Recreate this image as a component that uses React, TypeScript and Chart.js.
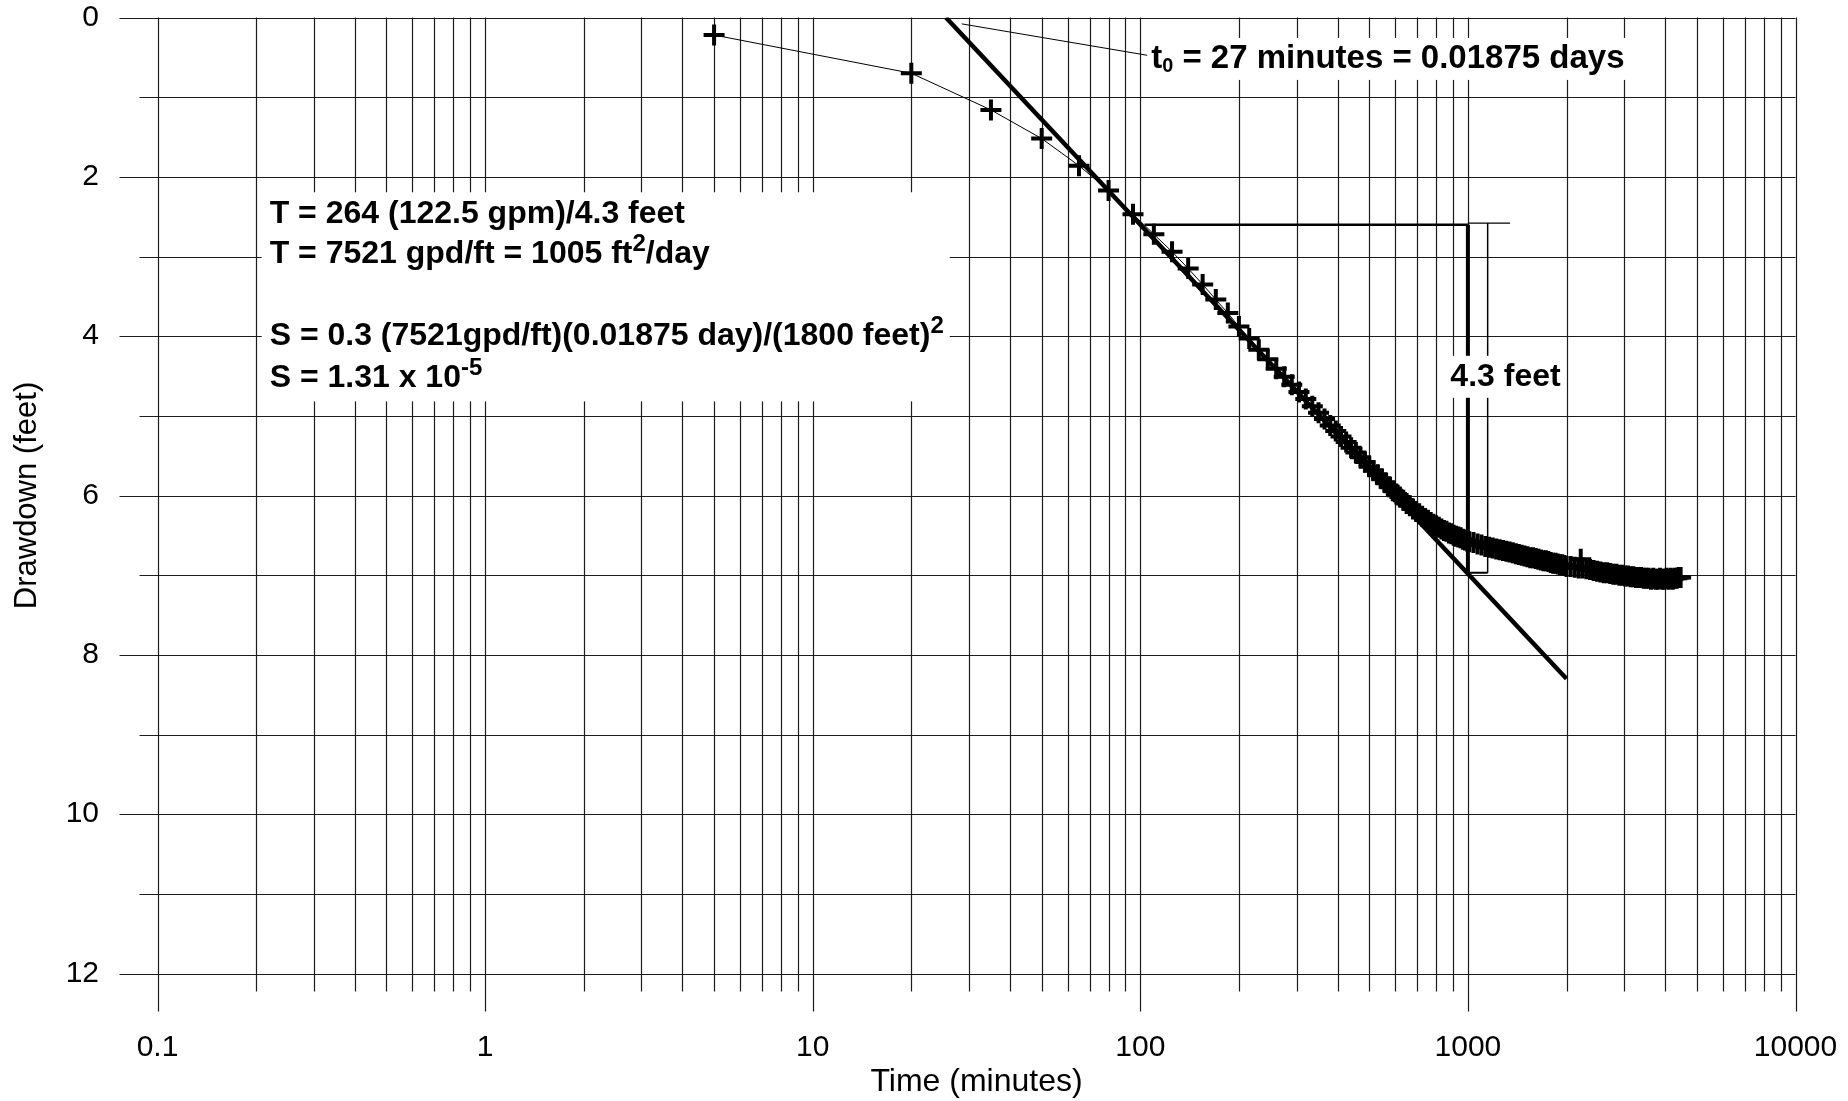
import React, { useEffect, useRef } from "react";
import { Chart, registerables } from "chart.js";

Chart.register(...registerables);

const FONT = "'Liberation Sans', Arial, Helvetica, sans-serif";

// ---- axes ----
const xTickValues = [0.1, 1, 10, 100, 1000, 10000];
const xTickLabels = ["0.1", "1", "10", "100", "1000", "10000"];
const xGridDecades = [0.1, 1, 10, 100, 1000];
const xGridMultipliers = [1, 2, 3, 4, 5, 6, 7, 8, 9];
const yTickValues = [0, 2, 4, 6, 8, 10, 12];
const yTickLabels = ["0", "2", "4", "6", "8", "10", "12"];
const yGridValues = [0, 1, 2, 3, 4, 5, 6, 7, 8, 9, 10, 11, 12];

// ---- observed drawdown (time in minutes, drawdown in feet) ----
const obsTimeMin = [
  5, 20, 35, 50, 65, 80, 95, 110, 125, 140, 155, 170, 185, 200, 215, 230, 245, 260, 275, 290,
  305, 320, 335, 350, 365, 380, 395, 410, 425, 440, 455, 470, 485, 500, 515, 530, 545, 560, 575, 590,
  605, 620, 635, 650, 665, 680, 695, 710, 725, 740, 755, 770, 785, 800, 815, 830, 845, 860, 875, 890,
  905, 920, 935, 950, 965, 980, 995, 1010,
  1040, 1070, 1100, 1130, 1160, 1190, 1220, 1250, 1280, 1310, 1340, 1370, 1400, 1430, 1460, 1490,
  1520, 1550, 1580, 1610, 1640, 1670, 1700, 1730, 1760, 1790, 1820, 1850, 1880, 1910, 1940, 1970, 2000,
  2060, 2120, 2180, 2210, 2240, 2300, 2360, 2420, 2480, 2540, 2600, 2660, 2720, 2780, 2840, 2900,
  2960, 3020, 3080, 3140, 3200, 3260, 3320, 3380, 3440, 3500, 3560, 3620, 3680, 3740, 3800, 3860,
  3920, 3980, 4040, 4100, 4160, 4220, 4280, 4340, 4400, 4460,
];
const obsDrawdownFt = [
  0.22, 0.7, 1.16, 1.52, 1.86, 2.17, 2.47, 2.72, 2.94, 3.15, 3.35, 3.54, 3.71, 3.88, 4.03, 4.17, 4.29, 4.41, 4.51, 4.61,
  4.7, 4.79, 4.88, 4.96, 5.04, 5.12, 5.19, 5.26, 5.33, 5.4, 5.46, 5.52, 5.58, 5.64, 5.69, 5.74, 5.79, 5.84, 5.89, 5.94,
  5.98, 6.02, 6.06, 6.1, 6.13, 6.17, 6.2, 6.23, 6.26, 6.29, 6.31, 6.34, 6.36, 6.38, 6.4, 6.42, 6.44, 6.45, 6.47, 6.48,
  6.5, 6.51, 6.52, 6.53, 6.55, 6.56, 6.57, 6.58,
  6.59, 6.61, 6.62, 6.64, 6.65, 6.66, 6.67, 6.68, 6.69, 6.7, 6.71, 6.72, 6.73, 6.74, 6.75, 6.76,
  6.77, 6.78, 6.78, 6.79, 6.8, 6.81, 6.82, 6.82, 6.83, 6.84, 6.85, 6.85, 6.86, 6.87, 6.87, 6.88, 6.89,
  6.89, 6.9, 6.91, 6.8, 6.91, 6.92, 6.93, 6.94, 6.95, 6.96, 6.97, 6.97, 6.98, 6.99, 6.99, 7.0,
  7.0, 7.01, 7.01, 7.02, 7.02, 7.03, 7.03, 7.03, 7.04, 7.04, 7.04, 7.05, 7.04, 7.05, 7.05, 7.04,
  7.05, 7.05, 7.04, 7.05, 7.04, 7.05, 7.04, 7.04, 7.03, 7.03,
];

// ---- Cooper-Jacob straight line fit ----
const fitTimeMin = [25.5, 2000];
const fitDrawdownFt = [0, 8.3];

// ---- leader line to t0 label ----
const leaderTimeMin = [28.5, 107];
const leaderDrawdownFt = [0.08, 0.48];

// ---- 4.3 feet per log cycle bracket ----
const bracketTopTime = [103, 1000];
const bracketTopDd = [2.6, 2.6];
const bracketTopThinTime = [1000, 1345];
const bracketTopThinDd = [2.58, 2.58];
const bracketLeftTime = [1000, 1000];
const bracketLeftDd = [2.6, 6.97];
const bracketRightTime = [1149, 1149];
const bracketRightDd = [2.58, 6.97];
const bracketBottomTime = [1000, 1149];
const bracketBottomDd = [6.97, 6.97];

// ---- annotation texts ----
type Part = { t: string; sup?: boolean; sub?: boolean };
const blockLines: Part[][] = [
  [{ t: "T = 264 (122.5 gpm)/4.3 feet" }],
  [{ t: "T = 7521 gpd/ft = 1005 ft" }, { t: "2", sup: true }, { t: "/day" }],
  [{ t: "S = 0.3 (7521gpd/ft)(0.01875 day)/(1800 feet)" }, { t: "2", sup: true }],
  [{ t: "S = 1.31 x 10" }, { t: "-5", sup: true }],
];
const blockLineDd = [2.47, 2.97, 4.0, 4.53];
const blockTime = 0.22;
const t0Label: Part[] = [{ t: "t" }, { t: "0", sub: true }, { t: " = 27 minutes = 0.01875 days" }];
const t0Anchor = { time: 108, dd: 0.52 };
const cycleLabel: Part[] = [{ t: "4.3 feet" }];
const cycleAnchor = { time: 884, dd: 4.51 };

const ANN = 32;
const ANN_T0 = 33;

function partFont(p: Part, size: number) {
  const sz = p.sup ? size * 0.75 : p.sub ? size * 0.6 : size;
  return `bold ${sz}px ${FONT}`;
}
function measureParts(ctx: CanvasRenderingContext2D, parts: Part[], size: number) {
  let w = 0;
  for (const p of parts) {
    ctx.font = partFont(p, size);
    w += ctx.measureText(p.t).width;
  }
  return w;
}
function drawParts(ctx: CanvasRenderingContext2D, x: number, y: number, parts: Part[], size: number) {
  let cx = x;
  ctx.textAlign = "left";
  ctx.textBaseline = "middle";
  ctx.fillStyle = "#000";
  for (const p of parts) {
    ctx.font = partFont(p, size);
    const dy = p.sup ? -size * 0.3 : p.sub ? size * 0.22 : 0;
    ctx.fillText(p.t, cx, y + dy);
    cx += ctx.measureText(p.t).width;
  }
}

const paperPlugin = {
  id: "paper",
  beforeDraw(chart: any) {
    const { ctx, width, height } = chart;
    ctx.save();
    ctx.fillStyle = "#fff";
    ctx.fillRect(0, 0, width, height);
    ctx.restore();
  },
  beforeDatasetsDraw(chart: any) {
    const { ctx, chartArea: a, scales } = chart;
    const xs = scales.x;
    const ys = scales.y;
    ctx.save();
    ctx.strokeStyle = "#1c1c1c";
    ctx.lineWidth = 1.2;
    ctx.beginPath();
    const vlines: [number, boolean][] = [];
    xGridDecades.forEach((d) => xGridMultipliers.forEach((m) => vlines.push([m * d, m === 1])));
    vlines.push([10000, true]);
    for (const [v, major] of vlines) {
      const x = Math.round(xs.getPixelForValue(v)) + 0.5;
      ctx.moveTo(x, a.top);
      ctx.lineTo(x, a.bottom + (major ? 38 : 18));
    }
    for (const v of yGridValues) {
      const y = Math.round(ys.getPixelForValue(v)) + 0.5;
      ctx.moveTo(a.left - (v % 2 === 0 ? 38 : 18), y);
      ctx.lineTo(a.right, y);
    }
    ctx.stroke();

    // white text box
    const x0 = xs.getPixelForValue(blockTime);
    let maxW = 0;
    blockLines.forEach((l) => (maxW = Math.max(maxW, measureParts(ctx, l, ANN))));
    const yTop = ys.getPixelForValue(blockLineDd[0]) - 22;
    const yBot = ys.getPixelForValue(blockLineDd[blockLineDd.length - 1]) + 23;
    ctx.fillStyle = "#fff";
    ctx.fillRect(x0 - 8, yTop, maxW + 14, yBot - yTop);
    ctx.restore();
  },
  afterDatasetsDraw(chart: any) {
    const { ctx, scales } = chart;
    const xs = scales.x;
    const ys = scales.y;
    ctx.save();
    const x0 = xs.getPixelForValue(blockTime);
    blockLines.forEach((l, i) => drawParts(ctx, x0, ys.getPixelForValue(blockLineDd[i]), l, ANN));

    const labels: [Part[], { time: number; dd: number }, number][] = [
      [t0Label, t0Anchor, ANN_T0],
      [cycleLabel, cycleAnchor, ANN],
    ];
    for (const [parts, anc, size] of labels) {
      const lx = xs.getPixelForValue(anc.time);
      const ly = ys.getPixelForValue(anc.dd);
      const w = measureParts(ctx, parts, size);
      ctx.fillStyle = "#fff";
      ctx.fillRect(lx - 4, ly - 21, w + 8, 42);
      drawParts(ctx, lx, ly, parts, size);
    }
    ctx.restore();
  },
};

function series(ts: number[], ds: number[]) {
  const n = Math.min(ts.length, ds.length);
  const out: { x: number; y: number }[] = [];
  for (let i = 0; i < n; i++) out.push({ x: ts[i], y: ds[i] });
  return out;
}

function lineDs(ts: number[], ds: number[], width: number) {
  return {
    data: series(ts, ds),
    showLine: true,
    borderColor: "#000",
    borderWidth: width,
    pointRadius: 0,
    pointHoverRadius: 0,
    fill: false,
  };
}

export default function App() {
  const ref = useRef<HTMLCanvasElement | null>(null);
  useEffect(() => {
    const canvas = ref.current;
    if (!canvas) return;
    const chart = new Chart(canvas, {
      type: "scatter",
      data: {
        datasets: [
          {
            data: series(obsTimeMin, obsDrawdownFt),
            showLine: true,
            borderColor: "#000",
            borderWidth: 1,
            pointStyle: "cross",
            pointRadius: 10.5,
            pointHoverRadius: 10.5,
            pointBorderWidth: 4,
            pointBorderColor: "#000",
            pointBackgroundColor: "#000",
          } as any,
          lineDs(fitTimeMin, fitDrawdownFt, 4.5),
          lineDs(leaderTimeMin, leaderDrawdownFt, 1),
          lineDs(bracketTopTime, bracketTopDd, 2.5),
          lineDs(bracketTopThinTime, bracketTopThinDd, 1.3),
          lineDs(bracketLeftTime, bracketLeftDd, 4),
          lineDs(bracketRightTime, bracketRightDd, 1.5),
          lineDs(bracketBottomTime, bracketBottomDd, 2),
        ],
      },
      options: {
        responsive: false,
        animation: false,
        devicePixelRatio: 1,
        events: [],
        layout: { padding: { left: 0, right: 52.5, top: 17.5, bottom: 0 }, autoPadding: false } as any,
        plugins: { legend: { display: false }, tooltip: { enabled: false } },
        scales: {
          x: {
            type: "logarithmic",
            position: "bottom",
            min: 0.1,
            max: 10000,
            grid: { display: false, drawTicks: true, tickLength: 56 },
            border: { display: false },
            ticks: {
              autoSkip: false,
              maxRotation: 0,
              minRotation: 0,
              padding: 0,
              color: "#000",
              font: { family: FONT, size: 30 },
              callback: (_v: any, i: number) => xTickLabels[i],
            },
            afterBuildTicks: (scale: any) => {
              scale.ticks = xTickValues.map((v) => ({ value: v }));
            },
            afterFit: (scale: any) => {
              scale.height = 127.5;
              scale.paddingLeft = 0;
              scale.paddingRight = 0;
              scale.paddingTop = 0;
              scale.paddingBottom = 0;
            },
            title: {
              display: true,
              text: "Time (minutes)",
              color: "#000",
              font: { family: FONT, size: 32 },
              padding: { top: 0, bottom: 0 },
            },
          } as any,
          y: {
            type: "linear",
            position: "left",
            min: 0,
            max: 12,
            reverse: true,
            grid: { display: false, drawTicks: true, tickLength: 58.5 },
            border: { display: false },
            ticks: {
              autoSkip: false,
              padding: 0,
              color: "#000",
              font: { family: FONT, size: 30 },
              callback: (_v: any, i: number) => yTickLabels[i],
            },
            afterBuildTicks: (scale: any) => {
              scale.ticks = yTickValues.map((v) => ({ value: v }));
            },
            afterFit: (scale: any) => {
              scale.width = 157.5;
              scale.paddingLeft = 0;
              scale.paddingRight = 0;
              scale.paddingTop = 0;
              scale.paddingBottom = 0;
            },
            title: {
              display: true,
              text: "Drawdown (feet)",
              color: "#000",
              font: { family: FONT, size: 31 },
              padding: { top: 9, bottom: 0 },
            },
          } as any,
        },
      },
      plugins: [paperPlugin],
    } as any);
    return () => chart.destroy();
  }, []);
  return (
    <div style={{ position: "absolute", left: 0, top: 0, width: 1848, height: 1101, background: "#fff" }}>
      <canvas ref={ref} width={1848} height={1101} style={{ display: "block", width: 1848, height: 1101 }} />
    </div>
  );
}
